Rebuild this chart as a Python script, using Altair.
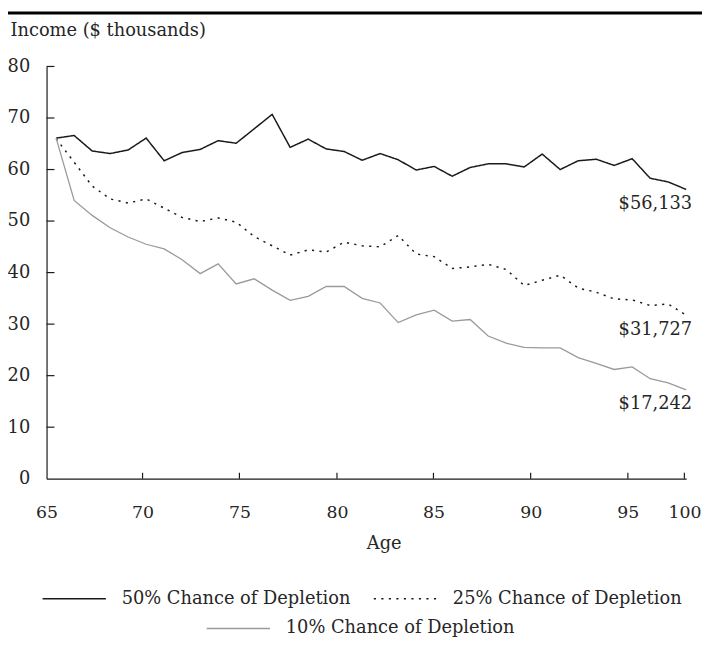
import altair as alt
import pandas as pd

# ---------------- data ----------------
ages = list(range(65, 101))
p50 = [66.1, 66.6, 63.6, 63.1, 63.8, 66.1, 61.7, 63.3, 63.9, 65.6, 65.1, 67.9,
       70.7, 64.3, 65.9, 64.0, 63.5, 61.8, 63.1, 61.9, 59.9, 60.6, 58.7, 60.4,
       61.1, 61.1, 60.5, 63.0, 60.0, 61.7, 62.0, 60.8, 62.1, 58.3, 57.6, 56.133]
p25 = [66.0, 61.4, 56.8, 54.3, 53.5, 54.3, 52.5, 50.7, 49.9, 50.6, 49.8, 47.0,
       45.2, 43.4, 44.4, 44.0, 45.9, 45.2, 45.0, 47.2, 43.6, 43.1, 40.8, 41.1,
       41.6, 40.6, 37.5, 38.5, 39.5, 37.0, 36.2, 34.9, 34.7, 33.6, 33.9, 31.727]
p10 = [66.1, 54.0, 51.1, 48.7, 46.9, 45.5, 44.6, 42.5, 39.8, 41.7, 37.8, 38.8,
       36.6, 34.6, 35.4, 37.3, 37.3, 35.0, 34.1, 30.3, 31.8, 32.7, 30.6, 30.9,
       27.7, 26.3, 25.5, 25.4, 25.4, 23.5, 22.4, 21.2, 21.7, 19.4, 18.6, 17.242]
series_names = ["50% Chance of Depletion", "25% Chance of Depletion",
                "10% Chance of Depletion"]
end_labels = ["$56,133", "$31,727", "$17,242"]
y_ticks = [0, 10, 20, 30, 40, 50, 60, 70, 80]
x_tick_values = [64.467, 69.8, 75.18, 80.6, 85.96, 91.36, 96.76, 99.9]
x_tick_labels = ["65", "70", "75", "80", "85", "90", "95", "100"]

# ---------------- style ----------------
FONT = "DejaVu Serif"
FS = 18
TEXT = "#262626"
AXIS = "#1a1a1a"
BLACK = "#1a1a1a"
GRAY = "#9a9a9a"
W, H = 647, 417

rows = []
for name, vals in zip(series_names, [p50, p25, p10]):
    for a, v in zip(ages, vals):
        rows.append({"age": a, "income": v, "series": name})
df = pd.DataFrame(rows)
df_main = df[df["series"].isin(series_names[:2])]
df_gray = df[df["series"] == series_names[2]]

ann = pd.DataFrame({"age": [ages[-1]] * 3,
                    "income": [p50[-1], p25[-1], p10[-1]],
                    "label": end_labels})

# label expression built from the tick lists
expr = f"'{x_tick_labels[-1]}'"
for i in range(len(x_tick_values) - 2, -1, -1):
    mid = (x_tick_values[i] + x_tick_values[i + 1]) / 2
    expr = f"datum.value < {mid:.3f} ? '{x_tick_labels[i]}' : ({expr})"

xscale = alt.Scale(domain=[x_tick_values[0], ages[-1]], nice=False, zero=False)
yscale = alt.Scale(domain=[y_ticks[0], y_ticks[-1]], nice=False, zero=False)

x_axis = alt.Axis(values=x_tick_values, labelExpr=expr, title="Age",
                  ticks=False, tickSize=0, grid=False,
                  domainColor=AXIS, domainWidth=1.2,
                  labelFont=FONT, labelFontSize=17.5, labelColor=TEXT,
                  labelPadding=25, labelFlush=False, labelOverlap=False,
                  titleFont=FONT, titleFontSize=FS, titleFontWeight="normal",
                  titleColor=TEXT, titleX=341, titleY=71,
                  titleBaseline="alphabetic", titleAlign="center")
y_axis = alt.Axis(values=y_ticks, title="Income ($ thousands)",
                  ticks=False, tickSize=0, grid=False,
                  domainColor=AXIS, domainWidth=1.2,
                  labelFont=FONT, labelFontSize=FS, labelColor=TEXT,
                  labelPadding=17, labelOverlap=False,
                  titleFont=FONT, titleFontSize=FS, titleFontWeight="normal",
                  titleColor=TEXT, titleAngle=0, titleAlign="left",
                  titleBaseline="alphabetic", titleX=-37, titleY=-31)

X = alt.X("age:Q", scale=xscale, axis=x_axis)
Y = alt.Y("income:Q", scale=yscale, axis=y_axis)

legend_a = alt.Legend(title=None, orient="none", legendX=-5, legendY=505.5,
                      direction="horizontal", symbolType="stroke",
                      symbolSize=4096, symbolStrokeWidth=1.5,
                      labelFont=FONT, labelFontSize=FS, labelColor=TEXT,
                      labelOffset=15, labelLimit=600, columnPadding=20,
                      padding=0)
legend_b = alt.Legend(title=None, orient="none", legendX=161, legendY=535.5,
                      direction="horizontal", symbolType="stroke",
                      symbolSize=4096, symbolStrokeWidth=1.3,
                      labelFont=FONT, labelFontSize=FS, labelColor=TEXT,
                      labelOffset=15, labelLimit=600, padding=0)

main_lines = alt.Chart(df_main).mark_line(strokeWidth=1.5).encode(
    x=X, y=Y,
    color=alt.Color("series:N",
                    scale=alt.Scale(domain=series_names[:2], range=[BLACK, BLACK]),
                    legend=legend_a),
    strokeDash=alt.StrokeDash("series:N",
                              scale=alt.Scale(domain=series_names[:2],
                                              range=[[1, 0], [2.2, 5.4]]),
                              legend=legend_a),
)

gray_line = alt.Chart(df_gray).mark_line(strokeWidth=1.3).encode(
    x=X, y=Y,
    color=alt.Color("series:N",
                    scale=alt.Scale(domain=[series_names[2]], range=[GRAY]),
                    legend=legend_b),
)

labels = alt.Chart(ann).mark_text(align="right", baseline="middle", dx=6, dy=14.5,
                                  font=FONT, fontSize=FS, color=TEXT).encode(
    x=X, y=Y, text="label:N",
)

ytick_rules = alt.Chart(pd.DataFrame({"income": y_ticks[1:]})).mark_rule(
    color=AXIS, strokeWidth=1.2).encode(
    y=Y, x=alt.value(0), x2=alt.value(8),
)

xtick_rules = alt.Chart(pd.DataFrame({"age": x_tick_values[1:]})).mark_rule(
    color=AXIS, strokeWidth=1.2).encode(
    x=X, y=alt.value(H), y2=alt.value(H - 6),
)

top_rule = alt.Chart(alt.Data(values=[{}])).mark_rule(
    color="black", strokeWidth=3).encode(
    x=alt.value(-39), x2=alt.value(663), y=alt.value(-54),
)

chart = alt.layer(
    main_lines, gray_line, labels, ytick_rules, xtick_rules, top_rule
).resolve_scale(
    color="independent", strokeDash="independent"
).properties(
    width=W, height=H,
    autosize=alt.AutoSizeParams(type="none"),
    padding={"left": 39, "top": 55.5, "right": 16, "bottom": 159.5},
).configure_view(stroke=None)

chart.save("out.html", embed_options={"renderer": "svg", "actions": False})
